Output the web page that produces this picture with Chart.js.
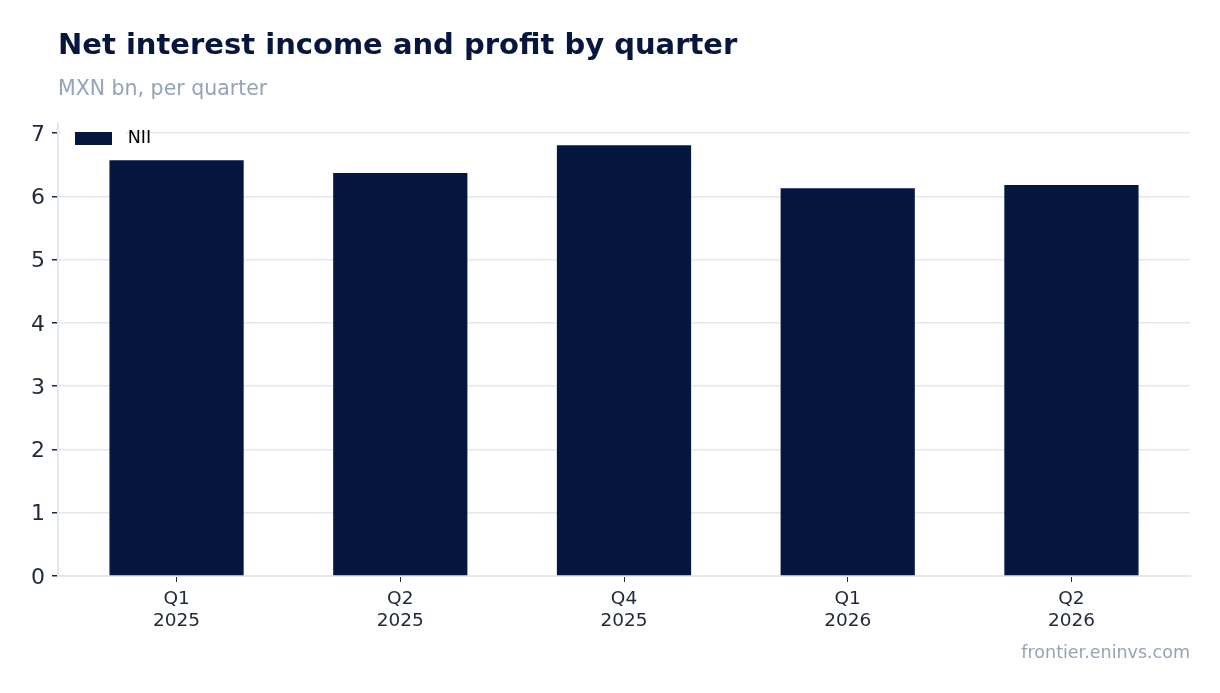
<!DOCTYPE html>
<html>
<head>
<meta charset="utf-8">
<script src="https://cdn.jsdelivr.net/npm/chart.js@4.4.1/dist/chart.umd.min.js"></script>
<style>
    body { margin: 0; background: #fff; font-family: "DejaVu Sans", sans-serif; }
    #wrap { position: relative; width: 1220px; height: 693px; }
    #title { position: absolute; left: 58px; top: 27px; font-size: 29px; font-weight: bold; color: #06163f; white-space: nowrap; }
    #subtitle { position: absolute; left: 58px; top: 76px; font-size: 20.5px; color: #94a3b8; white-space: nowrap; }
    #source { position: absolute; right: 30px; top: 642px; font-size: 17.5px; color: #94a3b8; }
    canvas { position: absolute; left: 0; top: 0; }
</style>
</head>
<body>
<div id="wrap">
    <canvas id="chart" width="1220" height="693"></canvas>
    <div id="title">Net interest income and profit by quarter</div>
    <div id="subtitle">MXN bn, per quarter</div>
    <div id="source">frontier.eninvs.com</div>
</div>
<script>
// du lieu doc tu hinh
const quarters = ["Q1", "Q2", "Q4", "Q1", "Q2"];
const years = ["2025", "2025", "2025", "2026", "2026"];
const niiValues = [6.57, 6.37, 6.81, 6.13, 6.18];
const yTicks = [0, 1, 2, 3, 4, 5, 6, 7];

const navy = "#05163f";
const gridColor = "#e2e8f0";
const textColor = "#1e293b";

// dich legend vao trong vung bieu do
const legendShift = {
    id: "legendShift",
    afterLayout(chart) {
        if (chart.legend) {
            chart.legend.left = chart.chartArea.left;
            chart.legend.top = chart.chartArea.top - 8;
        }
    }
};

const ctx = document.getElementById("chart").getContext("2d");
new Chart(ctx, {
    type: "bar",
    data: {
        datasets: [{
            label: "NII",
            data: niiValues.map((v, i) => ({ x: i, y: v })),
            backgroundColor: navy,
            borderWidth: 0,
            barPercentage: 0.6,
            categoryPercentage: 1,
        }],
    },
    plugins: [legendShift],
    options: {
        responsive: false,
        animation: false,
        layout: { padding: { top: 123, right: 30, left: 0, bottom: 0 } },
        scales: {
            x: {
                type: "linear",
                offset: false,
                min: -0.53,
                max: 4.53,
                afterFit: (s) => { s.height = 117; },
                afterBuildTicks: (s) => {
                    s.ticks = quarters.map((q, i) => ({ value: i }));
                },
                ticks: {
                    autoSkip: false,
                    maxRotation: 0,
                    padding: 7,
                    color: textColor,
                    font: { family: "DejaVu Sans", size: 18.5, lineHeight: 1.15 },
                    callback: (v) => [quarters[v], years[v]],
                },
                grid: {
                    offset: false,
                    drawOnChartArea: false,
                    drawTicks: true,
                    tickLength: 6,
                    tickColor: textColor,
                },
                border: { color: gridColor, width: 2 },
            },
            y: {
                min: 0,
                max: 7.16,
                afterFit: (s) => { s.width = 58; },
                afterBuildTicks: (s) => {
                    s.ticks = yTicks.map((v) => ({ value: v }));
                },
                ticks: {
                    padding: 7,
                    labelOffset: 2,
                    color: textColor,
                    font: { family: "DejaVu Sans", size: 22 },
                },
                grid: {
                    color: gridColor,
                    tickColor: textColor,
                    tickLength: 6,
                    lineWidth: 1.5,
                },
                border: { color: gridColor, width: 2 },
            },
        },
        plugins: {
            legend: {
                position: "chartArea",
                align: "start",
                labels: {
                    boxWidth: 51,
                    boxHeight: 27,
                    padding: 10,
                    color: textColor,
                    font: { family: "DejaVu Sans", size: 17.5 },
                    // vien trang day de tach chu xa o mau
                    generateLabels: (chart) => [{
                        text: chart.data.datasets[0].label,
                        fillStyle: navy,
                        strokeStyle: "#ffffff",
                        lineWidth: 14,
                        datasetIndex: 0,
                    }],
                },
            },
            tooltip: { enabled: false },
        },
    },
});
</script>
</body>
</html>
